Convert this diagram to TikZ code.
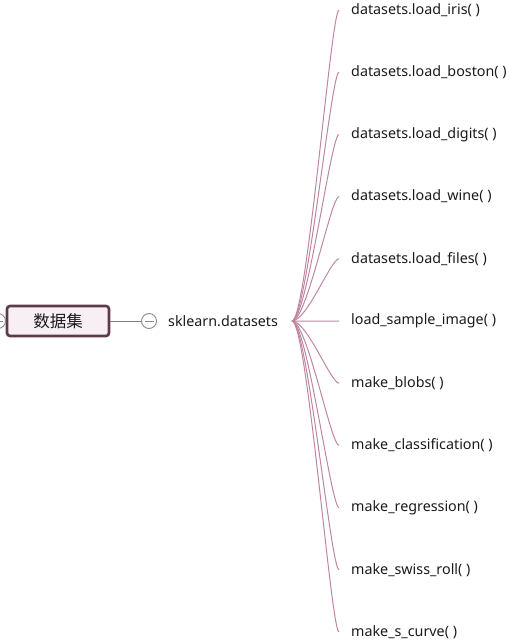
\documentclass[tikz,border=0pt]{standalone}
\usepackage{fontspec}
\setmainfont{Noto Sans}
\newfontfamily\cjk{Noto Sans CJK SC}
\usetikzlibrary{positioning}
\definecolor{branchpink}{HTML}{BF86A3}
\definecolor{rootborder}{HTML}{5E3A4C}
\definecolor{rootfill}{HTML}{F8EFF4}
\definecolor{foldgray}{HTML}{8A8A8A}
\definecolor{inktext}{HTML}{1A1A1A}
\tikzset{
  rootbox/.style = {draw=rootborder, fill=rootfill, line width=2.6pt,
                    rounded corners=3pt, minimum width=102pt, minimum height=30pt,
                    text=inktext, font=\cjk\fontsize{16.5}{16.5}\selectfont},
  fold/.style    = {circle, draw=foldgray, line width=0.9pt, minimum size=15pt,
                    inner sep=0pt,
                    path picture={\draw[foldgray, line width=0.9pt]
                      ([xshift=3pt]path picture bounding box.west) --
                      ([xshift=-3pt]path picture bounding box.east);}},
  topic/.style   = {anchor=west, inner sep=0pt, text=inktext,
                    font=\fontsize{14.3}{14.3}\selectfont},
  leaf/.style    = {anchor=west, inner sep=0pt, text=inktext,
                    font=\fontsize{14.3}{14.3}\selectfont},
  branch/.style  = {draw=branchpink, line width=1pt},
}

\begin{document}
\begin{tikzpicture}[x=1pt, y=-1pt]
  \useasboundingbox (0,0) rectangle (513,644);
  \node[rootbox] (root) at (58,321) {数据集};
  \node[fold] (lfold) at (-2,321) {};
  \node[fold] (rfold) at (149,321) {};
  \draw[branch, draw=rootborder!70] (root) -- (rfold);
  \node[topic] (skl) at (168,321) {sklearn.datasets};
  \coordinate (hub) at (292,321);
  \foreach \name [count=\i from 0] in {datasets.load\_iris( ), datasets.load\_boston( ),
      datasets.load\_digits( ), datasets.load\_wine( ), datasets.load\_files( ),
      load\_sample\_image( ), make\_blobs( ), make\_classification( ),
      make\_regression( ), make\_swiss\_roll( ), make\_s\_curve( )} {
    \node[leaf] (leaf\i) at (351, 10+62.2*\i) {\name};
    \draw[branch] (hub) .. controls +(15,0) and +(-8,0) .. ([xshift=-12pt]leaf\i.west);
  }
\end{tikzpicture}
\end{document}
